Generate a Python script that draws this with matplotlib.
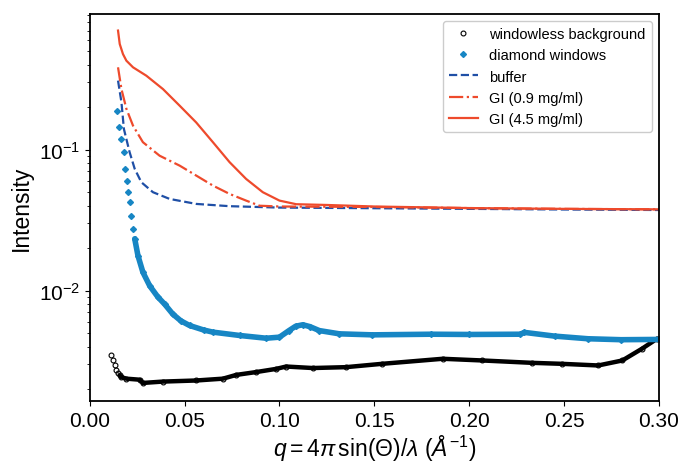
import numpy as np
import matplotlib
matplotlib.use("Agg")
import matplotlib.pyplot as plt

plt.rcParams["font.family"] = ["Liberation Sans", "DejaVu Sans"]
plt.rcParams["mathtext.fontset"] = "custom"
plt.rcParams["mathtext.rm"] = "Liberation Sans"
plt.rcParams["mathtext.it"] = "Liberation Sans:italic"
plt.rcParams["mathtext.bf"] = "Liberation Sans:bold"
plt.rcParams["axes.linewidth"] = 1.3

# --- data ---
q_bg = [0.0114, 0.0123, 0.0131, 0.0140, 0.0149, 0.0158, 0.0167, 0.0193, 0.0263,
        0.0280, 0.0386, 0.0561, 0.0702, 0.0772, 0.0877, 0.0982, 0.1035, 0.1175,
        0.1350, 0.1540, 0.1860, 0.2070, 0.2330, 0.2490, 0.2680, 0.2807, 0.2910,
        0.2990]
I_bg = [0.00350, 0.00319, 0.00294, 0.00271, 0.00260, 0.00250, 0.00243, 0.00237,
        0.00233, 0.00221, 0.00226, 0.00230, 0.00237, 0.00252, 0.00264, 0.00278,
        0.00289, 0.00282, 0.00286, 0.00302, 0.00328, 0.00319, 0.00307, 0.00302,
        0.00294, 0.00319, 0.00386, 0.00455]

q_dia = [0.0144, 0.0154, 0.0167, 0.0179, 0.0188, 0.0195, 0.0202, 0.0210, 0.0219,
         0.0228, 0.0237, 0.0254, 0.0280, 0.0316, 0.0359, 0.0395, 0.0438, 0.0480,
         0.0526, 0.0600, 0.0649, 0.0790, 0.0930, 0.1000, 0.1050, 0.1085, 0.1123,
         0.1160, 0.1210, 0.1316, 0.1490, 0.1800, 0.2000, 0.2270, 0.2290, 0.2450,
         0.2626, 0.2800, 0.3000]
I_dia = [0.189, 0.144, 0.119, 0.096, 0.073, 0.060, 0.050, 0.0424, 0.034,
         0.0274, 0.0233, 0.0177, 0.0135, 0.0108, 0.0090, 0.0080, 0.00680, 0.00610,
         0.00565, 0.00525, 0.00507, 0.00480, 0.00459, 0.00467, 0.00520, 0.00558,
         0.00572, 0.00555, 0.00520, 0.00493, 0.00485, 0.00490, 0.00488, 0.00490,
         0.00505, 0.00475, 0.00455, 0.00448, 0.00450]

q_buf = [0.0149, 0.0167, 0.0180, 0.0210, 0.0237, 0.0272, 0.0333, 0.0421, 0.0561,
         0.0737, 0.1000, 0.1500, 0.2000, 0.2500, 0.3000]
I_buf = [0.309, 0.217, 0.140, 0.096, 0.073, 0.0587, 0.0499, 0.0447, 0.0412,
         0.0397, 0.0388, 0.0384, 0.0380, 0.0376, 0.0373]

q_gi09 = [0.0149, 0.0167, 0.0193, 0.0228, 0.0280, 0.0368, 0.0474, 0.0561, 0.0649,
          0.0737, 0.0824, 0.0895, 0.1000, 0.1500, 0.2000, 0.2500, 0.3000]
I_gi09 = [0.384, 0.269, 0.195, 0.148, 0.113, 0.0906, 0.077, 0.0655, 0.0556,
          0.0485, 0.0435, 0.0400, 0.0395, 0.0392, 0.0385, 0.0380, 0.0377]

q_gi45 = [0.0149, 0.0158, 0.0175, 0.0193, 0.0228, 0.0298, 0.0386, 0.0474, 0.0561,
          0.0649, 0.0737, 0.0824, 0.0912, 0.1000, 0.1088, 0.1250, 0.1500, 0.2000,
          0.2500, 0.3000]
I_gi45 = [0.700, 0.562, 0.477, 0.428, 0.384, 0.335, 0.269, 0.205, 0.156,
          0.113, 0.0815, 0.062, 0.0499, 0.0435, 0.0410, 0.0405, 0.0395, 0.0385,
          0.0380, 0.0377]

c_red = "#ee4a2c"
c_cyan = "#1786c4"
c_blue = "#1f4fa6"

fig = plt.figure(figsize=(6.8, 4.64), dpi=100)
ax = fig.add_axes([0.132, 0.134, 0.837, 0.834])

q_bg = np.array(q_bg)
I_bg = np.array(I_bg)
q_dia = np.array(q_dia)
I_dia = np.array(I_dia)

# dense measurement points look like a thick band
m = q_bg >= 0.0158
ax.plot(q_bg[m], I_bg[m], color="k", lw=3.2,
        solid_capstyle="round", solid_joinstyle="round")
ax.plot(q_bg, I_bg, "o", mfc="none", mec="k", ms=3.5, mew=0.8,
        label="windowless background")

m = q_dia >= 0.0237
ax.plot(q_dia[m], I_dia[m], color=c_cyan, lw=4,
        solid_capstyle="round", solid_joinstyle="round")
ax.plot(q_dia, I_dia, "D", color=c_cyan, ms=3, label="diamond windows")

ax.plot(q_buf, I_buf, "--", color=c_blue, lw=1.6, label="buffer")
ax.plot(q_gi09, I_gi09, "-.", color=c_red, lw=1.6, label="GI (0.9 mg/ml)")
ax.plot(q_gi45, I_gi45, "-", color=c_red, lw=1.6, label="GI (4.5 mg/ml)")

ax.set_yscale("log")
ax.set_xlim(0, 0.30)
ax.set_ylim(0.00165, 0.92)
ax.set_xticks(np.arange(0, 0.301, 0.05))
ax.tick_params(labelsize=15)

ax.set_xlabel(r"$q = 4\pi\,\sin(\Theta)/\lambda$ ($\AA^{-1}$)", fontsize=16.5,
              labelpad=2)
ax.set_ylabel("Intensity", fontsize=16.5)

ax.legend(loc="upper right", fontsize=10.5, framealpha=1)

fig.savefig("out.png", dpi=100)
